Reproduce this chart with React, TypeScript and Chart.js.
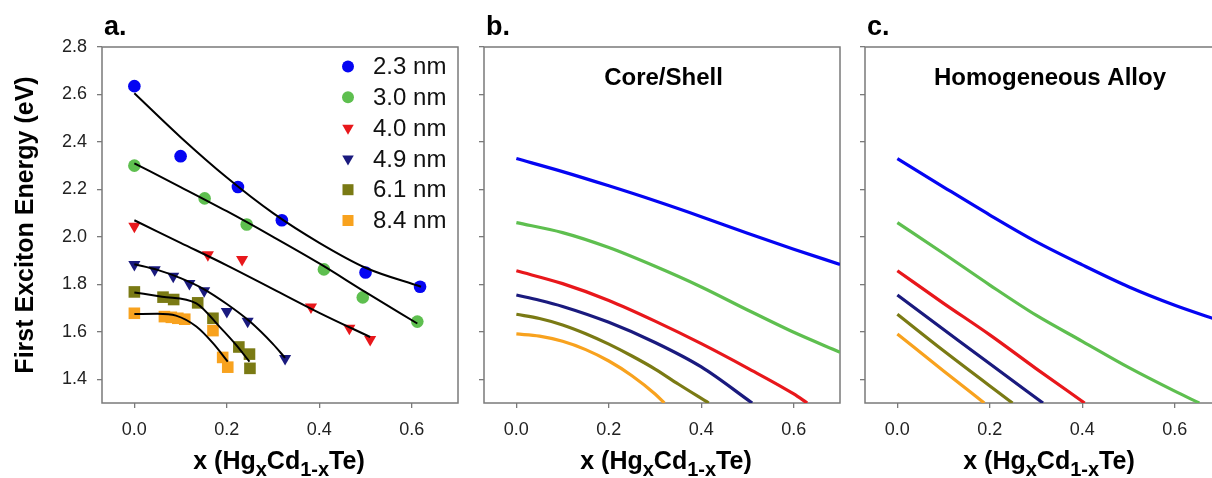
import React, { useEffect, useRef } from 'react';
import { Chart, registerables } from 'chart.js';

Chart.register(...registerables);

// ---------------- data ----------------
const SERIES_LABELS = ['2.3 nm', '3.0 nm', '4.0 nm', '4.9 nm', '6.1 nm', '8.4 nm'];
const X_TICKS = [0, 0.2, 0.4, 0.6];
const Y_TICKS = [1.4, 1.6, 1.8, 2.0, 2.2, 2.4, 2.6, 2.8];
const PANEL_LETTERS = ['a.', 'b.', 'c.'];
const PANEL_HEADINGS = ['', 'Core/Shell', 'Homogeneous Alloy'];
const Y_TITLE = 'First Exciton Energy (eV)';
// [text, isSubscript]
const X_TITLE_PARTS: [string, boolean][] = [['x (Hg', false], ['x', true], ['Cd', false], ['1-x', true], ['Te)', false]];

// panel a: measured first exciton energies
const MEAS_23_X = [0, 0.1, 0.224, 0.319, 0.5, 0.618];
const MEAS_23_Y = [2.635, 2.34, 2.21, 2.07, 1.85, 1.79];
const MEAS_30_X = [0, 0.152, 0.243, 0.41, 0.494, 0.612];
const MEAS_30_Y = [2.3, 2.162, 2.052, 1.863, 1.745, 1.643];
const MEAS_40_X = [0, 0.159, 0.233, 0.382, 0.465, 0.51];
const MEAS_40_Y = [2.045, 1.925, 1.905, 1.705, 1.615, 1.568];
const MEAS_49_X = [0, 0.044, 0.084, 0.119, 0.151, 0.2, 0.245, 0.326];
const MEAS_49_Y = [1.884, 1.861, 1.834, 1.803, 1.773, 1.686, 1.644, 1.487];
const MEAS_61_X = [0, 0.062, 0.085, 0.137, 0.17, 0.226, 0.249, 0.25];
const MEAS_61_Y = [1.768, 1.746, 1.736, 1.722, 1.657, 1.536, 1.506, 1.446];
const MEAS_84_X = [0, 0.065, 0.08, 0.094, 0.109, 0.17, 0.191, 0.202];
const MEAS_84_Y = [1.678, 1.664, 1.661, 1.657, 1.653, 1.605, 1.492, 1.451];

// panel a: fit curves
const FIT_23_X = [0, 0.1, 0.2, 0.3, 0.4, 0.5, 0.62];
const FIT_23_Y = [2.605, 2.42, 2.25, 2.1, 1.975, 1.87, 1.79];
const FIT_30_X = [0, 0.1, 0.2, 0.3, 0.4, 0.5, 0.612];
const FIT_30_Y = [2.31, 2.21, 2.108, 2.0, 1.888, 1.767, 1.635];
const FIT_40_X = [0, 0.1, 0.2, 0.3, 0.4, 0.51];
const FIT_40_Y = [2.07, 1.975, 1.88, 1.78, 1.68, 1.578];
const FIT_49_X = [0, 0.05, 0.1, 0.15, 0.2, 0.25, 0.3, 0.326];
const FIT_49_Y = [1.885, 1.861, 1.826, 1.78, 1.717, 1.643, 1.548, 1.49];
const FIT_61_X = [0, 0.06, 0.134, 0.184, 0.22, 0.249];
const FIT_61_Y = [1.766, 1.748, 1.72, 1.622, 1.545, 1.474];
const FIT_84_X = [0, 0.05, 0.09, 0.134, 0.17, 0.202];
const FIT_84_Y = [1.675, 1.676, 1.668, 1.622, 1.552, 1.474];

// panel b: core/shell model
const CS_23_X = [0, 0.1, 0.2, 0.3, 0.4, 0.5, 0.6, 0.7];
const CS_23_Y = [2.33, 2.275, 2.215, 2.152, 2.085, 2.015, 1.948, 1.884];
const CS_30_X = [0, 0.1, 0.2, 0.3, 0.4, 0.5, 0.6, 0.7];
const CS_30_Y = [2.06, 2.018, 1.955, 1.876, 1.789, 1.692, 1.598, 1.514];
const CS_40_X = [0, 0.1, 0.2, 0.3, 0.4, 0.5, 0.6, 0.629];
const CS_40_Y = [1.857, 1.803, 1.732, 1.645, 1.55, 1.447, 1.338, 1.3];
const CS_49_X = [0, 0.05, 0.1, 0.2, 0.3, 0.4, 0.51];
const CS_49_Y = [1.755, 1.733, 1.707, 1.64, 1.555, 1.452, 1.3];
const CS_61_X = [0, 0.05, 0.1, 0.15, 0.2, 0.25, 0.3, 0.35, 0.416];
const CS_61_Y = [1.674, 1.656, 1.629, 1.592, 1.548, 1.498, 1.443, 1.38, 1.3];
const CS_84_X = [0, 0.05, 0.1, 0.15, 0.2, 0.25, 0.3, 0.32];
const CS_84_Y = [1.591, 1.582, 1.56, 1.525, 1.477, 1.415, 1.338, 1.3];

// panel c: homogeneous alloy model
const HA_23_X = [0, 0.1, 0.2, 0.3, 0.4, 0.5, 0.6, 0.7];
const HA_23_Y = [2.33, 2.21, 2.092, 1.98, 1.882, 1.79, 1.712, 1.645];
const HA_30_X = [0, 0.1, 0.2, 0.3, 0.4, 0.5, 0.6, 0.653];
const HA_30_Y = [2.06, 1.93, 1.797, 1.67, 1.56, 1.45, 1.35, 1.3];
const HA_40_X = [0, 0.1, 0.2, 0.3, 0.405];
const HA_40_Y = [1.857, 1.72, 1.587, 1.445, 1.3];
const HA_49_X = [0, 0.1, 0.2, 0.315];
const HA_49_Y = [1.755, 1.61, 1.465, 1.3];
const HA_61_X = [0, 0.1, 0.249];
const HA_61_Y = [1.674, 1.52, 1.3];
const HA_84_X = [0, 0.1, 0.188];
const HA_84_Y = [1.591, 1.435, 1.3];

// ---------------- styles ----------------
const X_MIN = -0.07;
const X_MAX = 0.7;
const Y_MIN = 1.3;
const Y_MAX = 2.8;
const COLORS = ['#0505F2', '#5EBF4F', '#E8171B', '#1A1A7E', '#7A7A14', '#F8A21E'];
const POINT_STYLES = ['circle', 'circle', 'triangle', 'triangle', 'rect', 'rect'];
const POINT_ROT = [0, 0, 180, 180, 0, 0];
const POINT_R = [6.3, 6.3, 7, 7, 8.2, 8.2];
const FRAME = '#7a7a7a';
const FONT = '"Liberation Sans", Arial, Helvetica, sans-serif';

Chart.defaults.font.family = FONT;

const MEAS_X = [MEAS_23_X, MEAS_30_X, MEAS_40_X, MEAS_49_X, MEAS_61_X, MEAS_84_X];
const MEAS_Y = [MEAS_23_Y, MEAS_30_Y, MEAS_40_Y, MEAS_49_Y, MEAS_61_Y, MEAS_84_Y];
const FIT_X = [FIT_23_X, FIT_30_X, FIT_40_X, FIT_49_X, FIT_61_X, FIT_84_X];
const FIT_Y = [FIT_23_Y, FIT_30_Y, FIT_40_Y, FIT_49_Y, FIT_61_Y, FIT_84_Y];
const CS_X = [CS_23_X, CS_30_X, CS_40_X, CS_49_X, CS_61_X, CS_84_X];
const CS_Y = [CS_23_Y, CS_30_Y, CS_40_Y, CS_49_Y, CS_61_Y, CS_84_Y];
const HA_X = [HA_23_X, HA_30_X, HA_40_X, HA_49_X, HA_61_X, HA_84_X];
const HA_Y = [HA_23_Y, HA_30_Y, HA_40_Y, HA_49_Y, HA_61_Y, HA_84_Y];

const pts = (xs: number[], ys: number[]) => xs.map((x, i) => ({ x, y: ys[i] }));

function drawMarker(ctx: CanvasRenderingContext2D, style: string, r: number, rot: number, x: number, y: number, color: string) {
  ctx.save();
  ctx.fillStyle = color;
  ctx.beginPath();
  if (style === 'circle') {
    ctx.arc(x, y, r, 0, Math.PI * 2);
  } else if (style === 'triangle') {
    let rad = (rot * Math.PI) / 180;
    ctx.moveTo(x + Math.sin(rad) * r, y - Math.cos(rad) * r);
    rad += (2 * Math.PI) / 3;
    ctx.lineTo(x + Math.sin(rad) * r, y - Math.cos(rad) * r);
    rad += (2 * Math.PI) / 3;
    ctx.lineTo(x + Math.sin(rad) * r, y - Math.cos(rad) * r);
    ctx.closePath();
  } else {
    const s = r * Math.SQRT1_2;
    ctx.rect(x - s, y - s, 2 * s, 2 * s);
  }
  ctx.fill();
  ctx.restore();
}

const panelDeco = {
  id: 'panelDeco',
  beforeDatasetsDraw(chart: any) {
    const { ctx, chartArea: a } = chart;
    ctx.save();
    ctx.strokeStyle = FRAME;
    ctx.lineWidth = 1.5;
    ctx.strokeRect(a.left, a.top, a.right - a.left, a.bottom - a.top);
    ctx.restore();
  },
  afterDraw(chart: any, _a: any, opts: any) {
    const { ctx, chartArea: a } = chart;
    const cx = (a.left + a.right) / 2;
    ctx.save();
    ctx.fillStyle = '#000';
    ctx.textBaseline = 'alphabetic';
    // panel letter
    ctx.font = `bold 27px ${FONT}`;
    ctx.textAlign = 'left';
    ctx.fillText(opts.letter, a.left + 2, a.top - 12);
    // heading
    if (opts.heading) {
      ctx.font = `bold 24px ${FONT}`;
      ctx.textAlign = 'center';
      ctx.fillText(opts.heading, cx + opts.headingDx, a.top + 38);
    }
    // x title with subscripts
    const mainFont = `bold 25px ${FONT}`;
    const subFont = `bold 20px ${FONT}`;
    let total = 0;
    const widths = X_TITLE_PARTS.map(([t, sub]) => {
      ctx.font = sub ? subFont : mainFont;
      const w = ctx.measureText(t).width;
      total += w;
      return w;
    });
    let x = cx + opts.xTitleDx - total / 2;
    ctx.textAlign = 'left';
    X_TITLE_PARTS.forEach(([t, sub], i) => {
      ctx.font = sub ? subFont : mainFont;
      ctx.fillText(t, x, sub ? 476 : 469);
      x += widths[i];
    });
    // legend
    if (opts.legend) {
      const lx = a.right - 110;
      let ly = a.top + 19.5;
      ctx.font = `24px ${FONT}`;
      ctx.textBaseline = 'middle';
      chart.data.datasets.forEach((ds: any) => {
        if (ds.isFit) return;
        drawMarker(ctx, ds.pointStyle, ds.pointRadius * 0.95, ds.pointRotation, lx, ly, ds.pointBackgroundColor);
        ctx.fillStyle = '#111';
        ctx.fillText(ds.label, lx + 25, ly + 1);
        ly += 30.8;
      });
    }
    ctx.restore();
  },
};

function scales(showY: boolean, yWidth: number) {
  const grid = { display: true, drawOnChartArea: false, drawTicks: true, tickLength: 5, color: FRAME, lineWidth: 1.3 };
  return {
    x: {
      type: 'linear',
      min: X_MIN,
      max: X_MAX,
      afterBuildTicks: (s: any) => { s.ticks = X_TICKS.map((v) => ({ value: v })); },
      afterFit: (s: any) => { s.height = 75; },
      grid,
      border: { display: false },
      ticks: { padding: 11, autoSkip: false, maxRotation: 0, color: '#222', font: { size: 18 }, callback: (v: any) => Number(v).toFixed(1) },
    },
    y: {
      type: 'linear',
      min: Y_MIN,
      max: Y_MAX,
      afterBuildTicks: (s: any) => { s.ticks = Y_TICKS.map((v) => ({ value: v })); },
      afterFit: (s: any) => { s.width = yWidth; },
      grid,
      border: { display: false },
      ticks: { display: showY, padding: 10, autoSkip: false, color: '#222', font: { size: 18 }, callback: (v: any) => Number(v).toFixed(1) },
      title: { display: showY, text: Y_TITLE, color: '#000', font: { size: 25, weight: 'bold' }, padding: { top: 3, bottom: 0 } },
    },
  };
}

function datasetsA() {
  const fits = SERIES_LABELS.map((lab, i) => ({
    label: lab + ' fit',
    isFit: true,
    data: pts(FIT_X[i], FIT_Y[i]),
    showLine: true,
    borderColor: '#000',
    borderWidth: 2,
    pointRadius: 0,
    cubicInterpolationMode: 'monotone',
    order: 0,
  }));
  const meas = SERIES_LABELS.map((lab, i) => ({
    label: lab,
    data: pts(MEAS_X[i], MEAS_Y[i]),
    showLine: false,
    pointStyle: POINT_STYLES[i],
    pointRotation: POINT_ROT[i],
    pointRadius: POINT_R[i],
    pointBackgroundColor: COLORS[i],
    pointBorderWidth: 0,
    borderColor: COLORS[i],
    order: 1,
  }));
  return [...fits, ...meas];
}

function datasetsModel(X: number[][], Y: number[][]) {
  return SERIES_LABELS.map((lab, i) => ({
    label: lab,
    isFit: true,
    data: pts(X[i], Y[i]),
    showLine: true,
    borderColor: COLORS[i],
    borderWidth: 3.2,
    pointRadius: 0,
    cubicInterpolationMode: 'monotone',
  }));
}

type PanelCfg = {
  left: number; w: number; pad: { left: number; top: number; right: number; bottom: number };
  yWidth: number; showY: boolean; idx: number; headingDx: number; xTitleDx: number; legend: boolean; datasets: any[];
};

function Panel({ cfg }: { cfg: PanelCfg }) {
  const ref = useRef<HTMLCanvasElement>(null);
  useEffect(() => {
    const chart = new Chart(ref.current as HTMLCanvasElement, {
      type: 'line',
      data: { datasets: cfg.datasets },
      options: {
        responsive: false,
        animation: false,
        devicePixelRatio: 1,
        events: [],
        layout: { padding: cfg.pad },
        scales: scales(cfg.showY, cfg.yWidth) as any,
        plugins: {
          legend: { display: false },
          tooltip: { enabled: false },
          panelDeco: {
            letter: PANEL_LETTERS[cfg.idx],
            heading: PANEL_HEADINGS[cfg.idx],
            headingDx: cfg.headingDx,
            xTitleDx: cfg.xTitleDx,
            legend: cfg.legend,
          },
        } as any,
      },
      plugins: [panelDeco as any],
    } as any);
    return () => chart.destroy();
  }, []);
  return (
    <canvas
      ref={ref}
      width={cfg.w}
      height={478}
      style={{ position: 'absolute', left: cfg.left, top: 0, width: cfg.w, height: 478 }}
    />
  );
}

export default function App() {
  const panels: PanelCfg[] = [
    { left: 0, w: 470, pad: { left: 8, top: 47, right: 12, bottom: 0 }, yWidth: 94, showY: true, idx: 0, headingDx: 0, xTitleDx: -1, legend: true, datasets: datasetsA() },
    { left: 470, w: 380, pad: { left: 6, top: 47, right: 10, bottom: 0 }, yWidth: 8, showY: false, idx: 1, headingDx: 1.5, xTitleDx: 4, legend: false, datasets: datasetsModel(CS_X, CS_Y) },
    { left: 850, w: 380, pad: { left: 6, top: 47, right: 9, bottom: 0 }, yWidth: 9, showY: false, idx: 2, headingDx: 7, xTitleDx: 6, legend: false, datasets: datasetsModel(HA_X, HA_Y) },
  ];
  return (
    <div style={{ position: 'fixed', left: 0, top: 0, width: 1212, height: 478, overflow: 'hidden', background: '#fff' }}>
      {panels.map((p) => (
        <Panel key={p.idx} cfg={p} />
      ))}
    </div>
  );
}
